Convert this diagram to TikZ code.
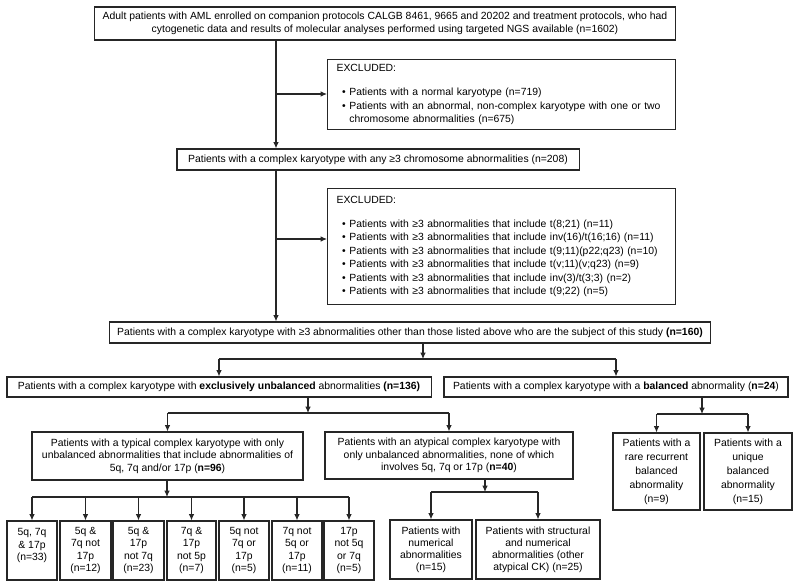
\documentclass[tikz,border=0pt]{standalone}
\usepackage{fontspec}
\setmainfont{Liberation Sans}
\usetikzlibrary{arrows.meta}

\tikzset{
  box/.style={draw=black!85, line width=0.8pt, align=center, inner sep=0pt,
    font=\fontsize{7.4}{9}\selectfont},
  exbox/.style={box, anchor=north west, align=left, inner xsep=0.225cm,
    text width=8.25cm, font=\fontsize{7.4}{9.6}\selectfont},
  subbox/.style={box, minimum height=1.475cm, font=\fontsize{7.4}{8.6}\selectfont},
  conn/.style={draw=black!85, line width=0.8pt},
  arr/.style={conn, -{Latex[length=4.5pt,width=4pt]}},
}
\newcommand{\exitem}[1]{\hspace*{4pt}\textbullet\hspace{2.5pt}#1}
\newcommand{\exgap}{\hspace*{4pt}\phantom{\textbullet}\hspace{2.5pt}}

\begin{document}
\begin{tikzpicture}[x=0.025cm, y=-0.025cm]
\useasboundingbox (0, 0) rectangle (800, 585);
\node [box, minimum width=14.5cm, minimum height=0.825cm, font=\fontsize{7.4}{9.2}\selectfont] (all) at (385, 23.5)
  {Adult patients with AML enrolled on companion protocols CALGB 8461, 9665 and 20202 and treatment protocols, who had\\
   cytogenetic data and results of molecular analyses performed using targeted NGS available (n=1602)};
\node [exbox, minimum height=1.75cm] (ex1) at (327, 59)
  {EXCLUDED:\\[7.5pt]
   \exitem{Patients with a normal karyotype (n=719)}\\
   \exitem{Patients with an abnormal, non-complex karyotype with one or two}\\
   \exgap chromosome abnormalities (n=675)};
\node [box, minimum width=10.05cm, minimum height=0.525cm] (ck208) at (378, 159.5)
  {Patients with a complex karyotype with any ≥3 chromosome abnormalities (n=208)};
\node [exbox, minimum height=2.9cm] (ex2) at (327, 188)
  {EXCLUDED:\\[7.5pt]
   \exitem{Patients with ≥3 abnormalities that include t(8;21) (n=11)}\\
   \exitem{Patients with ≥3 abnormalities that include inv(16)/t(16;16) (n=11)}\\
   \exitem{Patients with ≥3 abnormalities that include t(9;11)(p22;q23) (n=10)}\\
   \exitem{Patients with ≥3 abnormalities that include t(v;11)(v;q23) (n=9)}\\
   \exitem{Patients with ≥3 abnormalities that include inv(3)/t(3;3) (n=2)}\\
   \exitem{Patients with ≥3 abnormalities that include t(9;22) (n=5)}};
\node [box, minimum width=15cm, minimum height=0.525cm] (ck160) at (410, 332.5)
  {Patients with a complex karyotype with ≥3 abnormalities other than those listed above who are the subject of this study \textbf{(n=160)}};
\node [box, minimum width=10.6cm, minimum height=0.5cm] (unbal) at (219, 387)
  {Patients with a complex karyotype with \textbf{exclusively unbalanced} abnormalities \textbf{(n=136)}};
\node [box, minimum width=8.6cm, minimum height=0.5cm] (bal) at (616, 387)
  {Patients with a complex karyotype with a \textbf{balanced} abnormality (\textbf{n=24})};
\node [box, minimum width=6.775cm, minimum height=1.2cm] (typ) at (167.5, 456)
  {Patients with a typical complex karyotype with only\\
   unbalanced abnormalities that include abnormalities of\\
   5q, 7q and/or 17p (\textbf{n=96})};
\node [box, minimum width=6.2cm, minimum height=1.175cm] (atyp) at (449, 455.5)
  {Patients with an atypical complex karyotype with\\
   only unbalanced abnormalities, none of which\\
   involves 5q, 7q or 17p (\textbf{n=40})};
\node [box, minimum width=2.175cm, minimum height=1.925cm, font=\fontsize{7.4}{9.9}\selectfont] (rare) at (656.5, 471.5)
  {Patients with a\\ rare recurrent\\ balanced\\ abnormality\\ (n=9)};
\node [box, minimum width=2.2cm, minimum height=1.925cm, font=\fontsize{7.4}{9.9}\selectfont] (uniq) at (748, 471.5)
  {Patients with a\\ unique\\ balanced\\ abnormality\\ (n=15)};
\node [subbox, minimum width=1.25cm] (T1) at (32, 550.5) {5q, 7q\\ \& 17p\\ (n=33)\\ \mbox{}};
\node [subbox, minimum width=1.275cm] (T2) at (85.5, 550.5) {5q \&\\ 7q not\\ 17p\\ (n=12)};
\node [subbox, minimum width=1.275cm] (T3) at (138.5, 550.5) {5q \&\\ 17p\\ not 7q\\ (n=23)};
\node [subbox, minimum width=1.225cm] (T4) at (191.5, 550.5) {7q \&\\ 17p\\ not 5p\\ (n=7)};
\node [subbox, minimum width=1.25cm] (T5) at (244, 550.5) {5q not\\ 7q or\\ 17p\\ (n=5)};
\node [subbox, minimum width=1.25cm] (T6) at (297, 550.5) {7q not\\ 5q or\\ 17p\\ (n=11)};
\node [subbox, minimum width=1.25cm] (T7) at (349, 550.5) {17p\\ not 5q\\ or 7q\\ (n=5)};
\node [subbox, minimum width=2.05cm] (num) at (431, 549.5)
  {Patients with\\ numerical\\ abnormalities\\ (n=15)};
\node [subbox, minimum width=3.1cm] (struc) at (538, 549.5)
  {Patients with structural\\ and numerical\\ abnormalities (other\\ atypical CK) (n=25)};
\coordinate (J0) at (276, 94);
\coordinate (J1) at (276, 239);
\coordinate (J2) at (423, 359);
\coordinate (J3) at (308, 413);
\coordinate (J4) at (702, 414);
\coordinate (J5) at (167, 497);
\coordinate (J6) at (485, 492);
\draw [arr] (J0 |- all.south) -- (J0 |- ck208.north);
\draw [arr] (J0) -- (J0 -| ex1.west);
\draw [arr] (J1 |- ck208.south) -- (J1 |- ck160.north);
\draw [arr] (J1) -- (J1 -| ex2.west);
\draw [arr] (J2 |- ck160.south) -- (J2);
\draw [conn] (J2 -| unbal.north) -- (J2 -| bal.north);
\draw [arr] (J2 -| unbal.north) -- (unbal.north);
\draw [arr] (J2 -| bal.north) -- (bal.north);
\draw [arr] (J3 |- unbal.south) -- (J3);
\draw [conn] (J3 -| typ.north) -- (J3 -| atyp.north);
\draw [arr] (J3 -| typ.north) -- (typ.north);
\draw [arr] (J3 -| atyp.north) -- (atyp.north);
\draw [arr] (J4 |- bal.south) -- (J4);
\draw [conn] (J4 -| rare.north) -- (J4 -| uniq.north);
\draw [arr] (J4 -| rare.north) -- (rare.north);
\draw [arr] (J4 -| uniq.north) -- (uniq.north);
\draw [arr] (J5 |- typ.south) -- (J5);
\draw [conn] (J5 -| T1.north) -- (J5 -| T7.north);
\draw [arr] (J5 -| T1.north) -- (T1.north);
\draw [arr] (J5 -| T2.north) -- (T2.north);
\draw [arr] (J5 -| T3.north) -- (T3.north);
\draw [arr] (J5 -| T4.north) -- (T4.north);
\draw [arr] (J5 -| T5.north) -- (T5.north);
\draw [arr] (J5 -| T6.north) -- (T6.north);
\draw [arr] (J5 -| T7.north) -- (T7.north);
\draw [arr] (J6 |- atyp.south) -- (J6);
\draw [conn] (J6 -| num.north) -- (J6 -| struc.north);
\draw [arr] (J6 -| num.north) -- (num.north);
\draw [arr] (J6 -| struc.north) -- (struc.north);
\end{tikzpicture}
\end{document}
